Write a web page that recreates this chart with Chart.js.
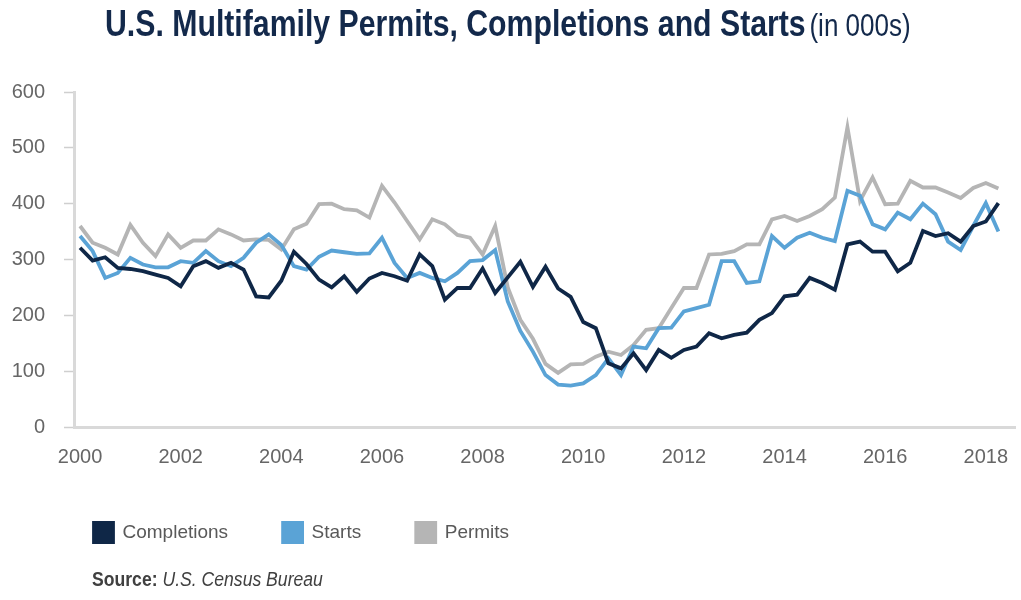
<!DOCTYPE html>
<html>
<head>
<meta charset="utf-8">
<script src="https://cdn.jsdelivr.net/npm/chart.js@4.4.0/dist/chart.umd.min.js"></script>
<style>
  body { margin: 0; background: #fff; }
  #wrap { position: relative; width: 1021px; height: 600px; }
  #title { position: absolute; left: 105px; top: 6px; white-space: nowrap; color: #13294b;
           font-family: "Liberation Sans", Arial, sans-serif; line-height: 36px;
           transform: scaleX(0.84); transform-origin: 0 0; }
  #title b { font-size: 36px; }
  #title span { font-size: 31px; }
  #source { position: absolute; left: 92px; top: 567px; white-space: nowrap; color: #404040;
            font-family: "Liberation Sans", Arial, sans-serif; font-size: 20px; line-height: 24px;
            transform: scaleX(0.88); transform-origin: 0 0; }
  canvas { position: absolute; left: 0; top: 0; }
</style>
</head>
<body>
<div id="wrap">
  <canvas id="js-chart-multifamily" width="1021" height="600"></canvas>
  <div id="title"><b>U.S. Multifamily Permits, Completions and Starts</b> <span>(in 000s)</span></div>
  <div id="source"><b>Source:</b> <i>U.S. Census Bureau</i></div>
</div>
<script>
// Quarterly data, 2000 Q1 - 2018 Q2 (in 000s)
const QUARTERS = [];
for (let y = 2000; y <= 2018; y++) {
    for (let q = 0; q < 4; q++) {
        if (QUARTERS.length < 74) QUARTERS.push(y + q / 4);
    }
}

const COMPLETIONS = [321, 298, 304, 285, 283, 279, 273, 267, 252, 288, 297, 285, 294, 282, 234, 232,
    262, 314, 292, 264, 250, 270, 242, 266, 276, 270, 262, 309, 288, 228, 249, 249,
    284, 240, 268, 296, 251, 287, 248, 233, 188, 177, 114, 105, 132, 102, 138, 124,
    138, 144, 168, 159, 165, 169, 192, 204, 234, 237, 267, 258, 246, 327, 332, 314,
    314, 279, 294, 351, 342, 347, 332, 360, 368, 401];

const STARTS = [342, 315, 267, 276, 303, 291, 286, 286, 297, 294, 315, 297, 288, 303, 330, 345,
    326, 288, 282, 305, 316, 313, 310, 311, 339, 294, 267, 276, 267, 261, 276, 297,
    299, 317, 225, 172, 135, 93, 76, 74, 78, 93, 123, 93, 144, 141, 177, 178,
    207, 213, 219, 297, 297, 258, 261, 342, 321, 339, 348, 339, 333, 423, 414, 363,
    354, 384, 372, 400, 381, 332, 317, 360, 401, 350];

const PERMITS = [360, 330, 321, 309, 362, 330, 306, 345, 321, 334, 334, 354, 345, 334, 336, 335,
    318, 354, 364, 399, 400, 390, 388, 375, 432, 402, 369, 336, 372, 363, 344, 339,
    309, 360, 250, 192, 158, 113, 97, 112, 113, 126, 135, 129, 147, 174, 177, 213,
    249, 249, 309, 310, 315, 327, 327, 372, 378, 369, 378, 390, 411, 537, 405, 447,
    399, 400, 441, 429, 429, 420, 410, 428, 437, 427];

const YEAR_TICKS = [2000, 2002, 2004, 2006, 2008, 2010, 2012, 2014, 2016, 2018];
const VALUE_TICKS = [0, 100, 200, 300, 400, 500, 600];

const FONT = "'Liberation Sans', Arial, sans-serif";

document.addEventListener("DOMContentLoaded", function() {
    Chart.defaults.font.family = FONT;
    Chart.defaults.elements.point.radius = 0;
    Chart.defaults.elements.point.hoverRadius = 0;
    createMultifamilyChart();
});

function toPoints(values) {
    return values.map((v, i) => ({ x: QUARTERS[i], y: v }));
}

// shift the legend so it starts under the plot, like the original
const legendShift = {
    id: "legendShift",
    afterLayout(chart) {
        chart.legend.left += 39;
    }
};

function createMultifamilyChart() {
    const element = document.getElementById("js-chart-multifamily");
    if (!element) {
        console.error("Multifamily chart element not found!");
        return;
    }
    new Chart(element, {
        type: "line",
        data: {
            datasets: [
                {
                    label: "Completions",
                    borderColor: "#0f2747",
                    backgroundColor: "#0f2747",
                    borderWidth: 3.8,
                    data: toPoints(COMPLETIONS)
                },
                {
                    label: "Starts",
                    borderColor: "#5aa3d6",
                    backgroundColor: "#5aa3d6",
                    borderWidth: 3.8,
                    data: toPoints(STARTS)
                },
                {
                    label: "Permits",
                    borderColor: "#b5b5b5",
                    backgroundColor: "#b5b5b5",
                    borderWidth: 3.8,
                    data: toPoints(PERMITS)
                }
            ]
        },
        options: {
            responsive: false,
            animation: false,
            tension: 0,
            layout: { padding: { top: 92, right: 6, bottom: 48, left: 0 } },
            scales: {
                x: {
                    type: "linear",
                    min: 1999.88,
                    max: 2018.58,
                    grid: { display: false },
                    border: { display: true, color: "#d9d9d9", width: 3 },
                    afterBuildTicks: (scale) => { scale.ticks = YEAR_TICKS.map(v => ({ value: v })); },
                    afterFit: (scale) => { scale.height = 41; },
                    ticks: {
                        autoSkip: false,
                        maxRotation: 0,
                        padding: 10,
                        color: "#666",
                        font: { size: 20 },
                        callback: (v) => String(v)
                    }
                },
                y: {
                    min: 0,
                    max: 600,
                    grid: { drawOnChartArea: false, tickLength: 10, color: "#cfcfcf", tickWidth: 1.5 },
                    border: { display: true, color: "#d9d9d9", width: 3 },
                    afterBuildTicks: (scale) => { scale.ticks = VALUE_TICKS.map(v => ({ value: v })); },
                    afterFit: (scale) => { scale.width = 74; },
                    ticks: {
                        padding: 19,
                        color: "#666",
                        font: { size: 20 }
                    }
                }
            },
            plugins: {
                legend: {
                    position: "bottom",
                    align: "start",
                    labels: {
                        boxWidth: 19,
                        boxHeight: 19,
                        padding: 55,
                        color: "#595959",
                        font: { size: 19 }
                    }
                },
                tooltip: { enabled: false }
            }
        },
        plugins: [legendShift]
    });
}
</script>
</body>
</html>
